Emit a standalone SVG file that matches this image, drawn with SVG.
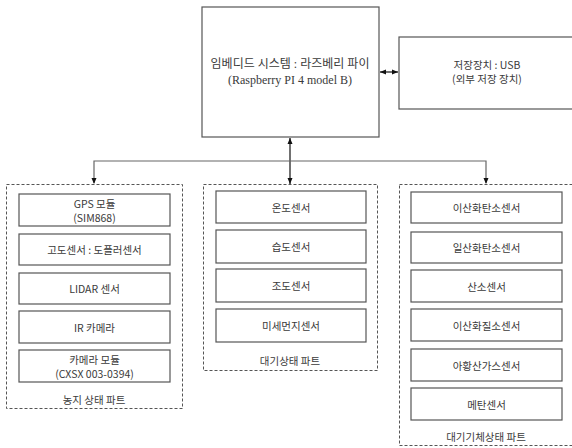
<svg xmlns="http://www.w3.org/2000/svg" width="572" height="448" viewBox="0 0 572 448">
<defs>
<marker id="ah" markerWidth="7" markerHeight="7" refX="6" refY="3.5" orient="auto-start-reverse" markerUnits="userSpaceOnUse">
<path d="M0,1 L6,3.5 L0,6 Z" fill="#111"/>
</marker>
<style>
.box{fill:#fff;stroke:#555;stroke-width:1.2}
.grp{fill:none;stroke:#555;stroke-width:1;stroke-dasharray:3,2}
.t{font-family:"Noto Sans CJK KR","Liberation Sans",sans-serif;font-size:10.5px;fill:#3a3a3a;text-anchor:middle;dominant-baseline:central}
.s{font-family:"Liberation Serif","Noto Sans CJK KR",serif;font-size:12px;fill:#3a3a3a;text-anchor:middle;dominant-baseline:central}
.ln{fill:none;stroke:#666;stroke-width:1.2}
.ar{fill:none;stroke:#111;stroke-width:1.2}
</style>
</defs>
<g id="connectors">
<line class="ar" x1="380" y1="72" x2="398" y2="72" marker-start="url(#ah)" marker-end="url(#ah)"/>
<line class="ar" x1="290" y1="138" x2="290" y2="184" marker-start="url(#ah)" marker-end="url(#ah)"/>
<polyline class="ln" points="94,183 94,161 486,161 486,183"/>
<line x1="94" y1="170" x2="94" y2="184" stroke="none" marker-end="url(#ah)"/>
<line x1="486" y1="170" x2="486" y2="184" stroke="none" marker-end="url(#ah)"/>
</g>
<g id="main">
<rect class="box" x="202" y="7" width="177" height="130"/>
<text class="s" x="290" y="64">임베디드 시스템 : 라즈베리 파이</text>
<text class="s" x="290" y="80">(Raspberry PI 4 model B)</text>
</g>
<g id="usb">
<rect class="box" x="399" y="37" width="178" height="72"/>
<text class="t" x="487" y="64">저장장치 : USB</text>
<text class="t" x="487" y="78">(외부 저장 장치)</text>
</g>
<g id="group-farm">
<rect class="grp" x="6.5" y="184.5" width="176" height="224"/>
<text class="t" x="94" y="399">농지 상태 파트</text>
</g>
<g id="gps"><rect class="box" x="19" y="194" width="151" height="32"/><text class="t" x="94.5" y="203.5">GPS 모듈</text><text class="t" x="94.5" y="217">(SIM868)</text></g>
<g id="alt"><rect class="box" x="19" y="234" width="151" height="31"/><text class="t" x="94.5" y="249.5">고도센서 : 도플러센서</text></g>
<g id="lidar"><rect class="box" x="19" y="273" width="151" height="31"/><text class="t" x="94.5" y="288.5">LIDAR 센서</text></g>
<g id="ir"><rect class="box" x="19" y="311" width="151" height="32"/><text class="t" x="94.5" y="327">IR 카메라</text></g>
<g id="cam"><rect class="box" x="19" y="350" width="151" height="32"/><text class="t" x="94.5" y="359.5">카메라 모듈</text><text class="t" x="94.5" y="373">(CXSX 003-0394)</text></g>
<g id="group-air">
<rect class="grp" x="203.5" y="184.5" width="174" height="186"/>
<text class="t" x="290" y="360">대기상태 파트</text>
</g>
<g id="temp"><rect class="box" x="216" y="191" width="150" height="32"/><text class="t" x="291" y="207">온도센서</text></g>
<g id="hum"><rect class="box" x="216" y="230" width="150" height="33"/><text class="t" x="291" y="246.5">습도센서</text></g>
<g id="lux"><rect class="box" x="216" y="269" width="150" height="33"/><text class="t" x="291" y="285.5">조도센서</text></g>
<g id="dust"><rect class="box" x="216" y="309" width="150" height="33"/><text class="t" x="291" y="325.5">미세먼지센서</text></g>
<g id="group-gas">
<rect class="grp" x="399.5" y="184.5" width="176" height="261"/>
<text class="t" x="486" y="436">대기기체상태 파트</text>
</g>
<g id="co2"><rect class="box" x="411" y="192" width="151" height="31"/><text class="t" x="486.5" y="207.5">이산화탄소센서</text></g>
<g id="co"><rect class="box" x="411" y="232" width="151" height="31"/><text class="t" x="486.5" y="247.5">일산화탄소센서</text></g>
<g id="o2"><rect class="box" x="411" y="270" width="151" height="32"/><text class="t" x="486.5" y="286">산소센서</text></g>
<g id="no2"><rect class="box" x="411" y="309" width="151" height="32"/><text class="t" x="486.5" y="325">이산화질소센서</text></g>
<g id="so2"><rect class="box" x="411" y="349" width="151" height="32"/><text class="t" x="486.5" y="365">아황산가스센서</text></g>
<g id="ch4"><rect class="box" x="411" y="388" width="151" height="32"/><text class="t" x="486.5" y="404">메탄센서</text></g>
</svg>
